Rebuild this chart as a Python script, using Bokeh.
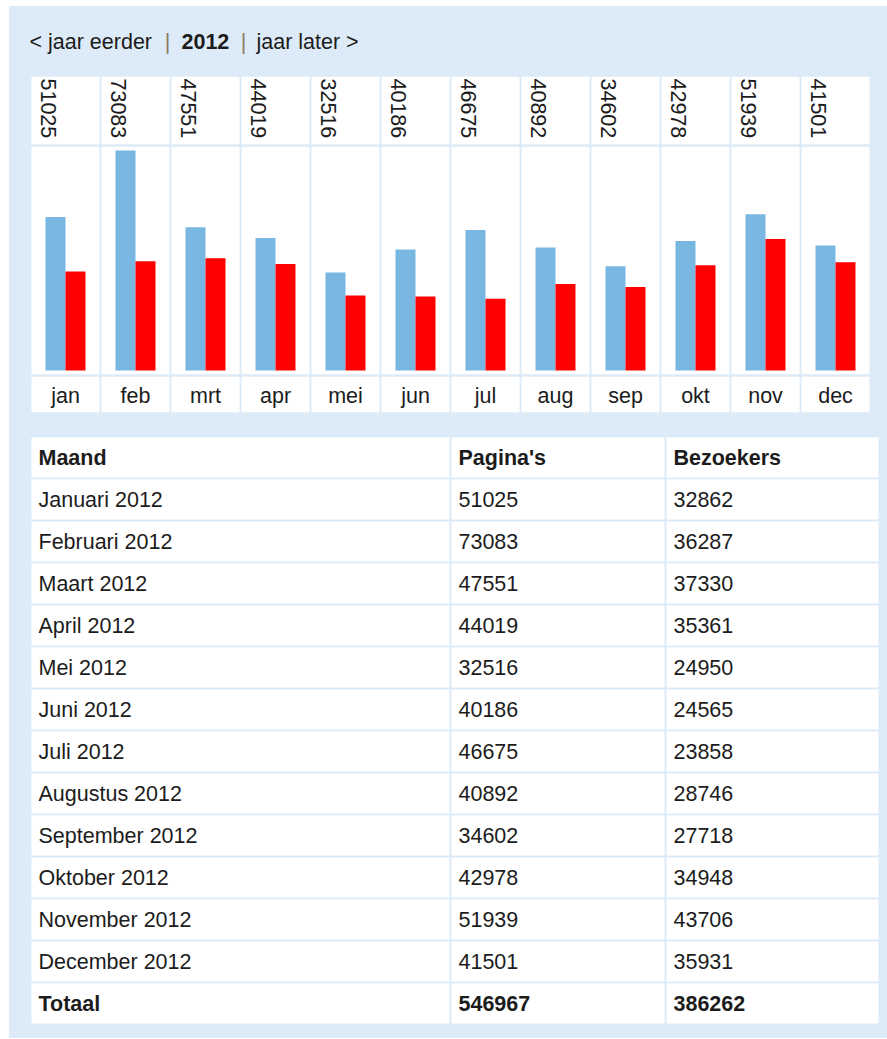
import math
from bokeh.plotting import figure
from bokeh.layouts import column, row
from bokeh.models import ColumnDataSource, Range1d, FactorRange, Spacer
from bokeh.transform import dodge
from bokeh.core.properties import value
from bokeh.embed import file_html
from bokeh.resources import INLINE

# ---------------- data ----------------
year = "2012"
nav_prev = "< jaar eerder"
nav_next = "jaar later >"
nav_sep = "|"
months = ["jan", "feb", "mrt", "apr", "mei", "jun", "jul", "aug", "sep", "okt", "nov", "dec"]
month_names = ["Januari 2012", "Februari 2012", "Maart 2012", "April 2012", "Mei 2012",
               "Juni 2012", "Juli 2012", "Augustus 2012", "September 2012",
               "Oktober 2012", "November 2012", "December 2012"]
pages = [51025, 73083, 47551, 44019, 32516, 40186, 46675, 40892, 34602, 42978, 51939, 41501]
visitors = [32862, 36287, 37330, 35361, 24950, 24565, 23858, 28746, 27718, 34948, 43706, 35931]
headers = ["Maand", "Pagina's", "Bezoekers"]
total_label = "Totaal"

# ---------------- style ----------------
PANEL = "#DCEBF7"
BAR_BLUE = "#78B7E2"
BAR_RED = "#FF0000"
TXT = "#1c1c1c"
SEPC = "#8a7a64"
FONT = value("Liberation Sans")
FS = "21.5px"
W = 878


def panel(height, x_range, y_range, left=0, right=0, top=0, bottom=0):
    p = figure(width=W, height=height, x_range=x_range, y_range=y_range,
               output_backend="svg", toolbar_location=None, title=None,
               x_axis_location=None, y_axis_location=None,
               min_border_left=left, min_border_right=right,
               min_border_top=top, min_border_bottom=bottom,
               frame_align=False)
    p.grid.visible = False
    p.outline_line_color = None
    p.border_fill_color = PANEL
    p.background_fill_color = PANEL
    return p


def txt(p, **kw):
    base = dict(text_font=FONT, text_font_size=FS, text_color=TXT,
                text_baseline="middle")
    base.update(kw)
    return p.text(**base)


# ---------------- navigation ----------------
nav = panel(70, Range1d(0, W), Range1d(0, 70))
txt(nav, x=[20], y=[35], text=[nav_prev], text_align="left")
txt(nav, x=[158, 234], y=[35, 35], text=[nav_sep, nav_sep], text_align="center",
    text_color=SEPC)
txt(nav, x=[172], y=[35], text=[year], text_align="left", text_font_style="bold")
txt(nav, x=[247], y=[35], text=[nav_next], text_align="left")

# ---------------- chart ----------------
src = ColumnDataSource(dict(m=months, pages=pages, visitors=visitors,
                            plabel=[str(v) for v in pages]))
xr = FactorRange(factors=months)
cell_w = 68 / 70
CL, CR = 21, 17

vals = panel(70, xr, Range1d(0, 1), left=CL, right=CR, bottom=2)
vals.vbar(x="m", top=1, bottom=0, width=cell_w, fill_color="white",
          line_color=None, source=src)
txt(vals, x=dodge("m", -0.236, range=xr), y=1, y_offset=2, text="plabel",
    angle=-math.pi / 2, text_align="left", source=src)

ymax = max(pages)
pad = ymax * 4 / 220
bars = panel(230, xr, Range1d(-pad, ymax + pad), left=CL, right=CR, bottom=2)
bars.vbar(x="m", top=ymax + pad, bottom=-pad, width=cell_w, fill_color="white",
          line_color=None, source=src)
bars.vbar(x=dodge("m", -1 / 7, range=xr), top="pages", bottom=0, width=2 / 7,
          fill_color=BAR_BLUE, line_color=None, source=src)
bars.vbar(x=dodge("m", 1 / 7, range=xr), top="visitors", bottom=0, width=2 / 7,
          fill_color=BAR_RED, line_color=None, source=src)

mon = panel(60, xr, Range1d(0, 1), left=CL, right=CR, bottom=24)
mon.vbar(x="m", top=1, bottom=0, width=cell_w, fill_color="white",
         line_color=None, source=src)
txt(mon, x="m", y=0.5, y_offset=1, text="m", text_align="center", source=src)

# ---------------- table ----------------
col_w = [420, 215, 214]
col_left = [sum(col_w[:i]) for i in range(len(col_w))]
rows = [headers] + [[n, str(a), str(b)] for n, a, b in zip(month_names, pages, visitors)] \
       + [[total_label, str(sum(pages)), str(sum(visitors))]]
row_keys = [r[0] for r in rows]

tbl = panel(602, Range1d(0, sum(col_w)), FactorRange(factors=row_keys[::-1]),
            left=CL, right=W - CL - sum(col_w), bottom=14)

cx, cy, cw, tx, ty, tt, bx, by, bt = [], [], [], [], [], [], [], [], []
for ri, r in enumerate(rows):
    bold = ri == 0 or ri == len(rows) - 1
    for ci, cell in enumerate(r):
        cx.append(col_left[ci] + col_w[ci] / 2)
        cy.append(row_keys[ri])
        cw.append(col_w[ci] - 2)
        if bold:
            bx.append(col_left[ci]); by.append(row_keys[ri]); bt.append(cell)
        else:
            tx.append(col_left[ci]); ty.append(row_keys[ri]); tt.append(cell)

tbl.rect(x=cx, y=cy, width=cw, height=40 / 42, fill_color="white", line_color=None)
txt(tbl, x=tx, y=ty, text=tt, text_align="left", x_offset=8)
txt(tbl, x=bx, y=by, text=bt, text_align="left", x_offset=8, text_font_style="bold")

inner = column(nav, vals, bars, mon, tbl, spacing=0,
               styles={"background-color": PANEL})
layout = column(Spacer(width=887, height=6),
                row(Spacer(width=9, height=1032), inner, spacing=0),
                spacing=0)
open("out.html", "w").write(file_html(layout, INLINE))
